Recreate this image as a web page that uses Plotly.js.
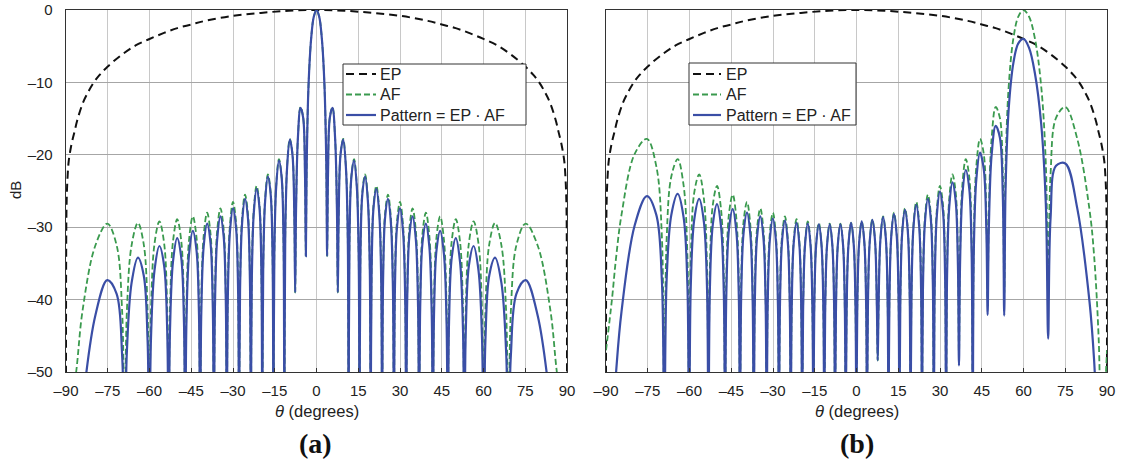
<!DOCTYPE html>
<html><head><meta charset="utf-8">
<script src="https://cdn.plot.ly/plotly-3.0.1.min.js"></script>
<style>html,body{margin:0;padding:0;background:#fff;}#chart{width:1123px;height:466px;}</style>
</head><body><div id="chart"></div>
<script>
// ---- tick labels ----
const thetaTicks = [-90,-75,-60,-45,-30,-15,0,15,30,45,60,75,90];
const thetaTickText = ['\u201390','\u201375','\u201360','\u201345','\u201330','\u201315','0','15','30','45','60','75','90'];
const dbTicks = [0,-10,-20,-30,-40,-50];
const dbTickText = ['0','\u201310','\u201320','\u201330','\u201340','\u201350'];

// ---- element pattern (both panels) ----
const thetaEP = [-90,-89.95,-89.8,-89.5,-89,-88,-87,-86,-84,-82,-80,-78,-75,-70,-65,-60,-55,-50,-45,-40,-30,-20,-10,0,10,20,30,40,45,50,55,60,65,70,75,78,80,82,84,86,87,88,89,89.5,89.8,89.95,90];
const epDB = [-70,-35,-27,-23.5,-20.8,-18.5,-16.9,-15.3,-12.9,-11.3,-10.0,-9.0,-7.8,-6.2,-4.9,-4.0,-3.2,-2.5,-2.0,-1.5,-0.8,-0.4,-0.1,0,-0.1,-0.4,-0.8,-1.5,-2.0,-2.5,-3.2,-4.0,-4.9,-6.2,-7.8,-9.0,-10.0,-11.3,-12.9,-15.3,-16.9,-18.5,-20.8,-23.5,-27,-35,-70];

// ---- panel (a): broadside ----
const thetaA = [-90,-86.38,
-84.08,-79.52,-75.16,-71.81,-69.83,-68.96,
-68.13,-66.44,-64.16,-62.05,-60.69,-60.07,
-59.46,-58.21,-56.44,-54.75,-53.64,-53.13,
-52.62,-51.57,-50.06,-48.59,-47.62,-47.17,
-46.72,-45.78,-44.43,-43.11,-42.22,-41.81,
-41.40,-40.54,-39.30,-38.07,-37.25,-36.87,
-36.49,-35.69,-34.52,-33.37,-32.59,-32.23,
-31.87,-31.11,-30.00,-28.90,-28.16,-27.82,
-27.47,-26.74,-25.68,-24.62,-23.91,-23.58,
-23.25,-22.54,-21.51,-20.49,-19.80,-19.47,
-19.15,-18.46,-17.46,-16.46,-15.78,-15.47,
-15.15,-14.48,-13.49,-12.51,-11.85,-11.54,
-11.23,-10.56,-9.59,-8.63,-7.97,-7.66,
-7.35,-6.70,-5.74,-4.78,-4.13,-3.82,
-3.52,-2.87,-1.91,-0.96,0,0.96,1.91,2.87,3.52,
3.82,4.13,4.78,5.74,6.70,7.35,
7.66,7.97,8.63,9.59,10.56,11.23,
11.54,11.85,12.51,13.49,14.48,15.15,
15.47,15.78,16.46,17.46,18.46,19.15,
19.47,19.80,20.49,21.51,22.54,23.25,
23.58,23.91,24.62,25.68,26.74,27.47,
27.82,28.16,28.90,30.00,31.11,31.87,
32.23,32.59,33.37,34.52,35.69,36.49,
36.87,37.25,38.07,39.30,40.54,41.40,
41.81,42.22,43.11,44.43,45.78,46.72,
47.17,47.62,48.59,50.06,51.57,52.62,
53.13,53.64,54.75,56.44,58.21,59.46,
60.07,60.69,62.05,64.16,66.44,68.13,
68.96,69.83,71.81,75.16,79.52,84.08,86.38,90];
const afA = [-60,-50.1,
-41.6,-32.6,-29.5,-32.5,-41.6,-60,
-41.6,-32.5,-29.4,-32.4,-41.5,-60,
-41.4,-32.3,-29.2,-32.2,-41.2,-60,
-41.2,-32.0,-28.9,-31.9,-40.9,-60,
-40.8,-31.7,-28.5,-31.4,-40.4,-60,
-40.3,-31.2,-28.0,-30.9,-39.8,-60,
-39.7,-30.5,-27.4,-30.2,-39.1,-60,
-39.0,-29.8,-26.5,-29.3,-38.2,-60,
-38.1,-28.8,-25.5,-28.2,-37.1,-60,
-36.9,-27.6,-24.3,-26.9,-35.7,-60,
-35.5,-26.1,-22.7,-25.2,-34.0,-60,
-33.7,-24.2,-20.6,-23.0,-31.7,-60,
-31.2,-21.6,-17.8,-19.9,-28.3,-39,
-27.6,-17.8,-13.4,-14.9,-22.7,-34,
-21.3,-10.5,-3.9,-0.9,0,-0.9,-3.9,-10.5,-21.3,
-34,-22.7,-14.9,-13.4,-17.8,-27.6,
-39,-28.3,-19.9,-17.8,-21.6,-31.2,
-60,-31.7,-23.0,-20.6,-24.2,-33.7,
-60,-34.0,-25.2,-22.7,-26.1,-35.5,
-60,-35.7,-26.9,-24.3,-27.6,-36.9,
-60,-37.1,-28.2,-25.5,-28.8,-38.1,
-60,-38.2,-29.3,-26.5,-29.8,-39.0,
-60,-39.1,-30.2,-27.4,-30.5,-39.7,
-60,-39.8,-30.9,-28.0,-31.2,-40.3,
-60,-40.4,-31.4,-28.5,-31.7,-40.8,
-60,-40.9,-31.9,-28.9,-32.0,-41.2,
-60,-41.2,-32.2,-29.2,-32.3,-41.4,
-60,-41.5,-32.4,-29.4,-32.5,-41.6,
-60,-41.6,-32.5,-29.5,-32.6,-41.6,-50.1,-60];
const patA = [-80,-65.9,
-54.7,-42.3,-37.3,-39.2,-47.7,-60,
-47.2,-37.7,-34.2,-36.7,-45.6,-60,
-45.3,-36.0,-32.6,-35.3,-44.2,-60,
-44.0,-34.8,-31.5,-34.2,-43.1,-60,
-43.0,-33.7,-30.5,-33.2,-42.1,-60,
-42.0,-32.7,-29.5,-32.2,-41.2,-60,
-41.0,-31.7,-28.5,-31.2,-40.1,-60,
-39.9,-30.7,-27.4,-30.1,-38.9,-60,
-38.8,-29.5,-26.1,-28.8,-37.6,-60,
-37.4,-28.1,-24.7,-27.3,-36.1,-60,
-35.8,-26.4,-23.0,-25.5,-34.2,-60,
-33.9,-24.4,-20.8,-23.2,-31.8,-60,
-31.3,-21.7,-17.9,-20.0,-28.4,-39,
-27.7,-17.8,-13.5,-14.9,-22.7,-34,
-21.3,-10.5,-3.9,-0.9,0,-0.9,-3.9,-10.5,-21.3,
-34,-22.7,-14.9,-13.5,-17.8,-27.7,
-39,-28.4,-20.0,-17.9,-21.7,-31.3,
-60,-31.8,-23.2,-20.8,-24.4,-33.9,
-60,-34.2,-25.5,-23.0,-26.4,-35.8,
-60,-36.1,-27.3,-24.7,-28.1,-37.4,
-60,-37.6,-28.8,-26.1,-29.5,-38.8,
-60,-38.9,-30.1,-27.4,-30.7,-39.9,
-60,-40.1,-31.2,-28.5,-31.7,-41.0,
-60,-41.2,-32.2,-29.5,-32.7,-42.0,
-60,-42.1,-33.2,-30.5,-33.7,-43.0,
-60,-43.1,-34.2,-31.5,-34.8,-44.0,
-60,-44.2,-35.3,-32.6,-36.0,-45.3,
-60,-45.6,-36.7,-34.2,-37.7,-47.2,
-60,-47.7,-39.2,-37.3,-42.3,-54.7,-65.9,-80];

// ---- panel (b): scanned to 60 degrees ----
const thetaB = [-90,-87.87,-86.35,
-84.44,-79.73,-75.31,-71.92,-69.93,-69.06,
-68.22,-66.53,-64.24,-62.13,-60.77,-60.15,
-59.53,-58.28,-56.51,-54.82,-53.70,-53.19,
-52.68,-51.62,-50.11,-48.65,-47.67,-47.22,
-46.77,-45.83,-44.48,-43.16,-42.27,-41.86,
-41.45,-40.59,-39.34,-38.12,-37.30,-36.92,
-36.53,-35.73,-34.56,-33.41,-32.64,-32.27,
-31.91,-31.15,-30.04,-28.95,-28.21,-27.86,
-27.51,-26.78,-25.72,-24.66,-23.95,-23.62,
-23.29,-22.58,-21.55,-20.53,-19.84,-19.51,
-19.19,-18.50,-17.50,-16.50,-15.82,-15.50,
-15.19,-14.52,-13.53,-12.55,-11.89,-11.57,
-11.26,-10.60,-9.63,-8.66,-8.01,-7.70,
-7.39,-6.74,-5.78,-4.82,-4.17,-3.86,
-3.55,-2.90,-1.95,-0.99,-0.34,-0.04,
0.27,0.92,1.87,2.83,3.48,3.79,
4.09,4.74,5.70,6.66,7.32,7.62,
7.93,8.59,9.56,10.53,11.19,11.50,
11.81,12.48,13.46,14.44,15.11,15.43,
15.75,16.42,17.42,18.42,19.11,19.43,
19.76,20.45,21.47,22.50,23.21,23.54,
23.87,24.58,25.64,26.70,27.43,27.78,
28.12,28.86,29.96,31.07,31.83,32.19,
32.55,33.32,34.47,35.64,36.44,36.82,
37.21,38.03,39.25,40.49,41.35,41.76,
42.17,43.05,44.37,45.73,46.66,47.11,
47.56,48.53,50.00,51.51,52.56,53.07,
53.58,54.69,56.37,58.14,60.00,61.97,64.08,66.35,68.03,68.86,
69.72,71.69,75.02,79.32,83.72,85.34,87.07,87.95,90];
const afB = [-47,-40.0,-34.1,
-28.3,-19.9,-17.8,-21.6,-31.2,-60,
-31.7,-23.0,-20.6,-24.2,-33.7,-60,
-34.0,-25.2,-22.7,-26.1,-35.5,-60,
-35.7,-26.9,-24.3,-27.6,-36.9,-60,
-37.1,-28.2,-25.5,-28.8,-38.1,-60,
-38.2,-29.3,-26.5,-29.8,-39.0,-60,
-39.1,-30.2,-27.4,-30.5,-39.7,-60,
-39.8,-30.9,-28.0,-31.2,-40.3,-60,
-40.4,-31.4,-28.5,-31.7,-40.8,-60,
-40.9,-31.9,-28.9,-32.0,-41.2,-60,
-41.2,-32.2,-29.2,-32.3,-41.4,-60,
-41.5,-32.4,-29.4,-32.5,-41.6,-60,
-41.6,-32.5,-29.5,-32.6,-41.6,-60,
-41.6,-32.6,-29.5,-32.5,-41.6,-60,
-41.6,-32.5,-29.4,-32.4,-41.5,-60,
-41.4,-32.3,-29.2,-32.2,-41.2,-60,
-41.2,-32.0,-28.9,-31.9,-40.9,-48.4,
-40.8,-31.7,-28.5,-31.4,-40.4,-60,
-40.3,-31.2,-28.0,-30.9,-39.8,-60,
-39.7,-30.5,-27.4,-30.2,-39.1,-60,
-39.0,-29.8,-26.5,-29.3,-38.2,-60,
-38.1,-28.8,-25.5,-28.2,-37.1,-60,
-36.9,-27.6,-24.3,-26.9,-35.7,-60,
-35.5,-26.1,-22.7,-25.2,-34.0,-47.8,
-33.7,-24.2,-20.6,-23.0,-31.7,-60,
-31.2,-21.6,-17.8,-19.9,-28.3,-39.9,
-27.6,-17.8,-13.4,-14.9,-22.7,-39.3,
-21.3,-10.5,-3.9,-0.9,0,-0.9,-3.9,-10.5,-21.3,-39.6,
-22.7,-14.9,-13.4,-17.8,-27.6,-33.8,-46.0,-60,-47];
const patB = [-80,-58.9,-49.9,
-41.7,-29.8,-25.7,-28.3,-37.3,-60,
-37.3,-28.3,-25.4,-28.6,-37.8,-60,
-37.9,-28.9,-26.1,-29.3,-38.5,-60,
-38.6,-29.6,-26.8,-30.0,-39.2,-60,
-39.3,-30.3,-27.5,-30.6,-39.8,-60,
-39.9,-30.9,-28.0,-31.1,-40.3,-60,
-40.4,-31.4,-28.5,-31.6,-40.7,-60,
-40.8,-31.8,-28.8,-31.9,-41.1,-60,
-41.1,-32.1,-29.1,-32.2,-41.3,-60,
-41.4,-32.3,-29.4,-32.4,-41.5,-60,
-41.6,-32.5,-29.5,-32.6,-41.6,-60,
-41.7,-32.6,-29.6,-32.6,-41.7,-60,
-41.7,-32.6,-29.6,-32.6,-41.7,-60,
-41.7,-32.6,-29.6,-32.5,-41.6,-60,
-41.6,-32.5,-29.4,-32.4,-41.5,-60,
-41.4,-32.3,-29.2,-32.2,-41.2,-60,
-41.2,-32.1,-29.0,-31.9,-40.9,-48.4,
-40.9,-31.7,-28.6,-31.5,-40.5,-60,
-40.5,-31.3,-28.2,-31.1,-40.0,-60,
-40.0,-30.8,-27.6,-30.5,-39.5,-60,
-39.3,-30.1,-26.9,-29.8,-38.7,-60,
-38.6,-29.4,-26.1,-28.9,-37.8,-60,
-37.6,-28.4,-25.1,-27.8,-36.7,-60,
-36.5,-27.2,-23.8,-26.4,-35.2,-49.1,
-35.0,-25.6,-22.1,-24.6,-33.3,-60,
-32.9,-23.4,-19.7,-22.0,-30.5,-42.1,
-29.9,-20.1,-16.0,-17.6,-25.5,-42.2,
-24.3,-13.6,-7.3,-4.6,-4.0,-5.2,-8.7,-15.7,-26.9,-45.4,
-28.8,-21.5,-21.2,-27.4,-40.3,-48.2,-63,-70,-80];

// ---- names ----
const seriesNames = ['EP', 'AF', 'Pattern = EP \u00b7 AF'];
const panelLabels = ['(a)', '(b)'];

// ---- layout helpers ----
const W = 1123, H = 466;
const px = v => v / W;
const py = v => 1 - v / H;

const C_EP = '#111111', C_AF = '#3a9a4e', C_PAT = '#3a4ea6';
const DASH_EP = '8px,5px', DASH_AF = '6px,3px';
const epLine  = {color: C_EP, width: 2, dash: DASH_EP, shape: 'spline', smoothing: 1};
const afLine  = {color: C_AF, width: 1.8, dash: DASH_AF, shape: 'spline', smoothing: 1};
const patLine = {color: C_PAT, width: 2.2, shape: 'spline', smoothing: 1};

function mk(x, y, name, line, xa, ya) {
  return {type: 'scatter', mode: 'lines', x: x, y: y, name: name, line: line,
          xaxis: xa, yaxis: ya, showlegend: false, hoverinfo: 'skip'};
}

const data = [
  mk(thetaEP, epDB, seriesNames[0], epLine, 'x', 'y'),
  mk(thetaA, afA, seriesNames[1], afLine, 'x', 'y'),
  mk(thetaA, patA, seriesNames[2], patLine, 'x', 'y'),
  mk(thetaEP, epDB, seriesNames[0], epLine, 'x2', 'y2'),
  mk(thetaB, afB, seriesNames[1], afLine, 'x2', 'y2'),
  mk(thetaB, patB, seriesNames[2], patLine, 'x2', 'y2')
];

const fontFam = "'Liberation Sans', Arial, Helvetica, sans-serif";
const serifFam = "'Liberation Serif', 'Times New Roman', serif";
const xCommon = {
  range: [-90, 90], tickmode: 'array', tickvals: thetaTicks, ticktext: thetaTickText,
  showline: true, mirror: true, linecolor: '#333', linewidth: 1.3,
  showgrid: true, gridcolor: '#c8c8c8', gridwidth: 1, zeroline: false,
  ticks: 'inside', ticklen: 4, tickcolor: '#333', tickwidth: 1,
  tickfont: {size: 15, color: '#222', family: fontFam}, ticklabelstandoff: 5, fixedrange: true
};
const yCommon = {
  range: [-50, 0], tickmode: 'array', tickvals: dbTicks, ticktext: dbTickText,
  domain: [py(372), py(10)],
  showline: true, mirror: true, linecolor: '#333', linewidth: 1.3,
  showgrid: true, gridcolor: '#a6a6a6', gridwidth: 1, zeroline: false,
  ticks: '', tickfont: {size: 15, color: '#222', family: fontFam}, ticklabelstandoff: 9, fixedrange: true
};

// ---- hand-drawn legend boxes (one per panel) ----
const shapes = [];
const annotations = [];
function legendBox(x0, x1, y0, y1, lx0, lx1, tx, rows) {
  shapes.push({type: 'rect', xref: 'paper', yref: 'paper', x0: px(x0), x1: px(x1), y0: py(y1), y1: py(y0),
               line: {color: '#333', width: 1}, fillcolor: '#ffffff', layer: 'above'});
  const styles = [{color: C_EP, width: 2, dash: DASH_EP}, {color: C_AF, width: 1.8, dash: DASH_AF}, {color: C_PAT, width: 2.2}];
  for (let i = 0; i < 3; i++) {
    shapes.push({type: 'line', xref: 'paper', yref: 'paper', x0: px(lx0), x1: px(lx1), y0: py(rows[i]), y1: py(rows[i]),
                 line: styles[i], layer: 'above'});
    annotations.push({text: seriesNames[i], x: px(tx), y: py(rows[i]), xref: 'paper', yref: 'paper',
                      xanchor: 'left', yanchor: 'middle', showarrow: false,
                      font: {size: 16, color: '#222', family: fontFam}});
  }
}
legendBox(343, 526, 64, 125, 346, 376, 378, [74, 94.5, 115]);
legendBox(689, 856, 63, 125, 693, 721, 724, [74, 94.5, 115]);

annotations.push(
  {text: 'dB', x: px(15), y: py(190), xref: 'paper', yref: 'paper', showarrow: false, textangle: -90,
   xanchor: 'center', yanchor: 'middle', font: {size: 15, color: '#222', family: fontFam}},
  {text: '<i>\u03b8</i> (degrees)', x: px(316.5), y: py(411), xref: 'paper', yref: 'paper', showarrow: false,
   xanchor: 'center', yanchor: 'middle', font: {size: 16.5, color: '#222', family: fontFam}},
  {text: '<i>\u03b8</i> (degrees)', x: px(856.5), y: py(411), xref: 'paper', yref: 'paper', showarrow: false,
   xanchor: 'center', yanchor: 'middle', font: {size: 16.5, color: '#222', family: fontFam}},
  {text: '<b>' + panelLabels[0] + '</b>', x: px(315), y: py(443), xref: 'paper', yref: 'paper', showarrow: false,
   xanchor: 'center', yanchor: 'middle', font: {size: 28, color: '#111', family: serifFam}},
  {text: '<b>' + panelLabels[1] + '</b>', x: px(857), y: py(443), xref: 'paper', yref: 'paper', showarrow: false,
   xanchor: 'center', yanchor: 'middle', font: {size: 28, color: '#111', family: serifFam}}
);

const layout = {
  width: W, height: H, margin: {l: 0, r: 0, t: 0, b: 0},
  paper_bgcolor: '#ffffff', plot_bgcolor: '#ffffff',
  font: {family: fontFam, size: 15, color: '#222'},
  showlegend: false,
  xaxis: Object.assign({}, xCommon, {domain: [px(66), px(567)], anchor: 'y'}),
  xaxis2: Object.assign({}, xCommon, {domain: [px(606), px(1107)], anchor: 'y2'}),
  yaxis: Object.assign({}, yCommon, {anchor: 'x'}),
  yaxis2: Object.assign({}, yCommon, {anchor: 'x2', showticklabels: false}),
  shapes: shapes,
  annotations: annotations
};

Plotly.newPlot('chart', data, layout, {staticPlot: true, displayModeBar: false});
</script></body></html>
